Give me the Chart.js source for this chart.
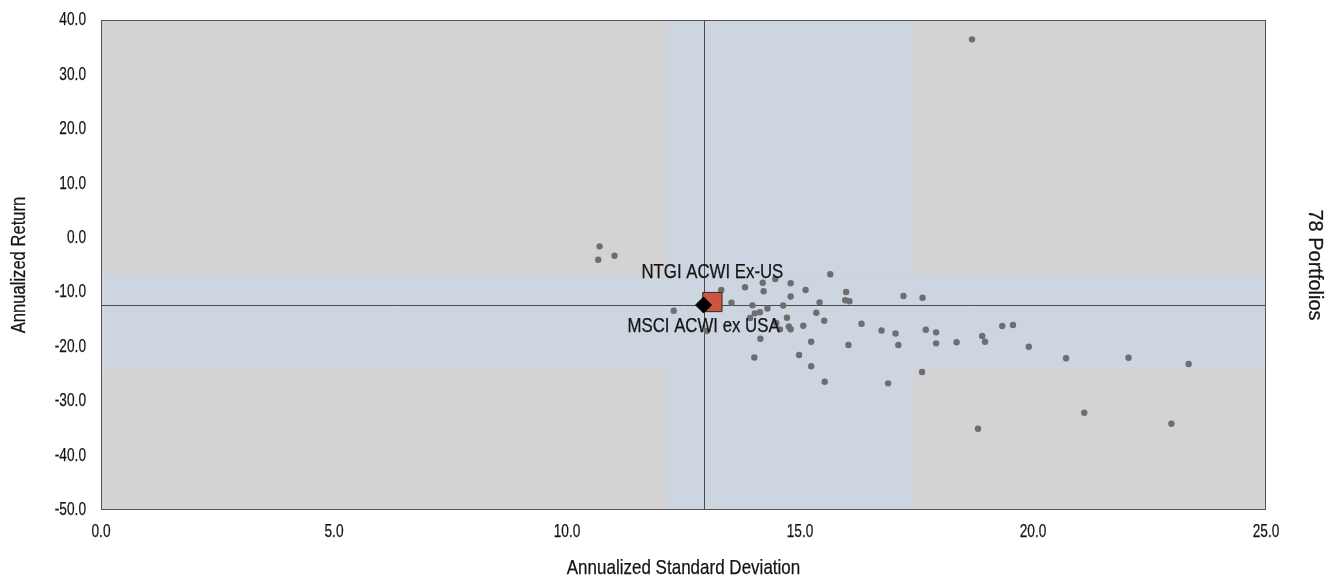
<!DOCTYPE html>
<html>
<head>
<meta charset="utf-8">
<script src="https://cdn.jsdelivr.net/npm/chart.js@4/dist/chart.umd.min.js"></script>
<style>
  html, body { margin: 0; padding: 0; background: #ffffff; }
  #wrap { width: 1326px; height: 576px; position: relative; }
</style>
</head>
<body>
<div id="wrap"><canvas id="c" width="1326" height="576"></canvas></div>
<script>
// Portfolio universe: annualized standard deviation (x) and annualized return (y)
const portfolioRisk = [
  10.70, 10.67, 11.02, 18.69, 12.29, 13.00, 13.31, 13.53, 13.82, 13.98,
  14.03, 14.14, 14.30, 14.20, 14.22, 14.47, 14.64, 14.80, 14.80, 15.12,
  15.65, 15.99, 15.97, 16.06, 15.42, 15.35, 14.72, 15.52, 14.76, 14.80,
  14.57, 15.07, 14.15, 14.02, 15.24, 14.98, 15.24, 15.53, 16.04, 16.32,
  16.75, 17.05, 17.11, 16.89, 17.22, 17.63, 17.70, 17.92, 17.92, 18.36,
  18.91, 18.97, 19.34, 19.57, 17.62, 19.91, 20.71, 22.05, 23.34, 21.10,
  22.97, 18.82, 13.93, 14.49
];
const portfolioReturn = [
  -1.57, -4.03, -3.30, 36.45, -13.40, -17.13, -9.60, -11.93, -9.08, -12.41,
  -13.88, -13.69, -12.99, -8.25, -9.83, -7.58, -12.44, -8.35, -10.79, -9.60,
  -6.71, -9.96, -11.47, -11.65, -11.86, -13.77, -14.68, -15.25, -16.30, -16.80,
  -16.82, -16.15, -18.54, -21.98, -19.09, -21.54, -23.61, -26.44, -19.70, -15.80,
  -17.04, -17.59, -19.70, -26.74, -10.70, -11.01, -16.89, -17.37, -19.39, -19.20,
  -18.05, -19.09, -16.21, -16.03, -24.66, -20.01, -22.14, -22.03, -23.19, -32.13,
  -34.16, -35.07, -14.74, -15.66
];

// Highlighted fund and benchmark
const fundName = 'NTGI ACWI Ex-US';
const fundPoint = [13.12, -11.80];
const benchName = 'MSCI ACWI ex USA';
const benchPoint = [12.93, -12.35];

// Middle-range bands (risk range and return range)
const riskBand = [12.17, 17.44];
const returnBand = [-24.16, -6.88];

// Axis ticks and titles
const xTickValues = [0, 5, 10, 15, 20, 25];
const yTickValues = [-50, -40, -30, -20, -10, 0, 10, 20, 30, 40];
const xTitle = 'Annualized Standard Deviation';
const yTitle = 'Annualized Return';
const countTitle = '78 Portfolios';

const FONT = '"Liberation Sans", Arial, sans-serif';
const TEXT = '#141414';

// Draws text compressed horizontally (narrow face), optionally rotated
function narrowText(ctx, text, x, y, squeeze, rotation) {
  ctx.save();
  ctx.translate(x, y);
  if (rotation) ctx.rotate(rotation);
  ctx.scale(squeeze, 1);
  ctx.fillText(text, 0, 0);
  ctx.lineWidth = 0.25;
  ctx.strokeText(text, 0, 0);
  ctx.restore();
}

const quadrantPlugin = {
  id: 'quadrants',
  beforeDatasetsDraw(chart) {
    const { ctx, chartArea: a, scales: { x, y } } = chart;
    ctx.save();
    ctx.fillStyle = '#d3d3d3';
    ctx.fillRect(a.left, a.top, a.right - a.left, a.bottom - a.top);
    ctx.fillStyle = '#cdd5e1';
    const bx0 = x.getPixelForValue(riskBand[0]), bx1 = x.getPixelForValue(riskBand[1]);
    ctx.fillRect(bx0, a.top, bx1 - bx0, a.bottom - a.top);
    const by0 = y.getPixelForValue(returnBand[1]), by1 = y.getPixelForValue(returnBand[0]);
    ctx.fillRect(a.left, by0, a.right - a.left, by1 - by0);
    // crosshair through the benchmark
    ctx.strokeStyle = '#4a4a4a';
    ctx.lineWidth = 1;
    const cx = Math.round(x.getPixelForValue(benchPoint[0])) + 0.5;
    const cy = Math.round(y.getPixelForValue(benchPoint[1])) + 0.5;
    ctx.beginPath();
    ctx.moveTo(cx, a.top); ctx.lineTo(cx, a.bottom);
    ctx.moveTo(a.left, cy); ctx.lineTo(a.right, cy);
    ctx.stroke();
    ctx.restore();
  },
  afterDatasetsDraw(chart) {
    const { ctx, chartArea: a, scales: { x, y } } = chart;
    ctx.save();
    // plot frame
    ctx.strokeStyle = '#555555';
    ctx.lineWidth = 1;
    ctx.strokeRect(Math.round(a.left) + 0.5, Math.round(a.top) + 0.5,
                   Math.round(a.right - a.left) - 1, Math.round(a.bottom - a.top) - 1);

    ctx.fillStyle = TEXT;
    ctx.strokeStyle = TEXT;
    ctx.textBaseline = 'middle';

    // tick labels
    ctx.font = '19px ' + FONT;
    ctx.textAlign = 'right';
    yTickValues.forEach(v => narrowText(ctx, v.toFixed(1), 86, y.getPixelForValue(v), 0.72));
    ctx.textAlign = 'center';
    xTickValues.forEach(v => narrowText(ctx, v.toFixed(1), x.getPixelForValue(v), 532, 0.72));

    // point labels
    ctx.font = '21px ' + FONT;
    narrowText(ctx, fundName, x.getPixelForValue(fundPoint[0]), y.getPixelForValue(fundPoint[1]) - 30, 0.8);
    narrowText(ctx, benchName, x.getPixelForValue(benchPoint[0]), y.getPixelForValue(benchPoint[1]) + 21, 0.8);

    // axis titles
    ctx.font = '21px ' + FONT;
    narrowText(ctx, xTitle, (a.left + a.right) / 2, 568, 0.81);
    narrowText(ctx, yTitle, 19, 265, 0.79, -Math.PI / 2);
    ctx.font = '20px ' + FONT;
    narrowText(ctx, countTitle, 1315, 265, 1.0, Math.PI / 2);
    ctx.restore();
  }
};

const portfolios = portfolioRisk.map((v, i) => ({ x: v, y: portfolioReturn[i] }));

new Chart(document.getElementById('c'), {
  type: 'scatter',
  data: {
    datasets: [
      {
        label: benchName,
        data: [{ x: benchPoint[0], y: benchPoint[1] }],
        pointStyle: 'rectRot',
        pointRadius: 8,
        backgroundColor: '#000000',
        borderColor: '#000000',
        borderWidth: 1,
        order: 0
      },
      {
        label: fundName,
        data: [{ x: fundPoint[0], y: fundPoint[1] }],
        pointStyle: 'rect',
        pointRadius: 13.6,
        backgroundColor: '#cd5441',
        borderColor: '#2b2b2b',
        borderWidth: 1,
        order: 1
      },
      {
        label: countTitle,
        data: portfolios,
        pointStyle: 'circle',
        pointRadius: 3.2,
        backgroundColor: '#6e6e6e',
        borderWidth: 0,
        order: 2
      }
    ]
  },
  options: {
    responsive: false,
    animation: false,
    layout: { padding: { left: 0, top: 20, right: 60, bottom: 0 } },
    plugins: { legend: { display: false }, tooltip: { enabled: false } },
    scales: {
      x: {
        type: 'linear',
        min: 0, max: 25,
        grid: { display: false },
        border: { display: false },
        ticks: { display: false },
        afterBuildTicks(s) { s.ticks = xTickValues.map(v => ({ value: v })); },
        afterFit(s) { s.height = 66; }
      },
      y: {
        type: 'linear',
        min: -50, max: 40,
        grid: { display: false },
        border: { display: false },
        ticks: { display: false },
        afterBuildTicks(s) { s.ticks = yTickValues.map(v => ({ value: v })); },
        afterFit(s) { s.width = 101; }
      }
    }
  },
  plugins: [quadrantPlugin]
});
</script>
</body>
</html>
